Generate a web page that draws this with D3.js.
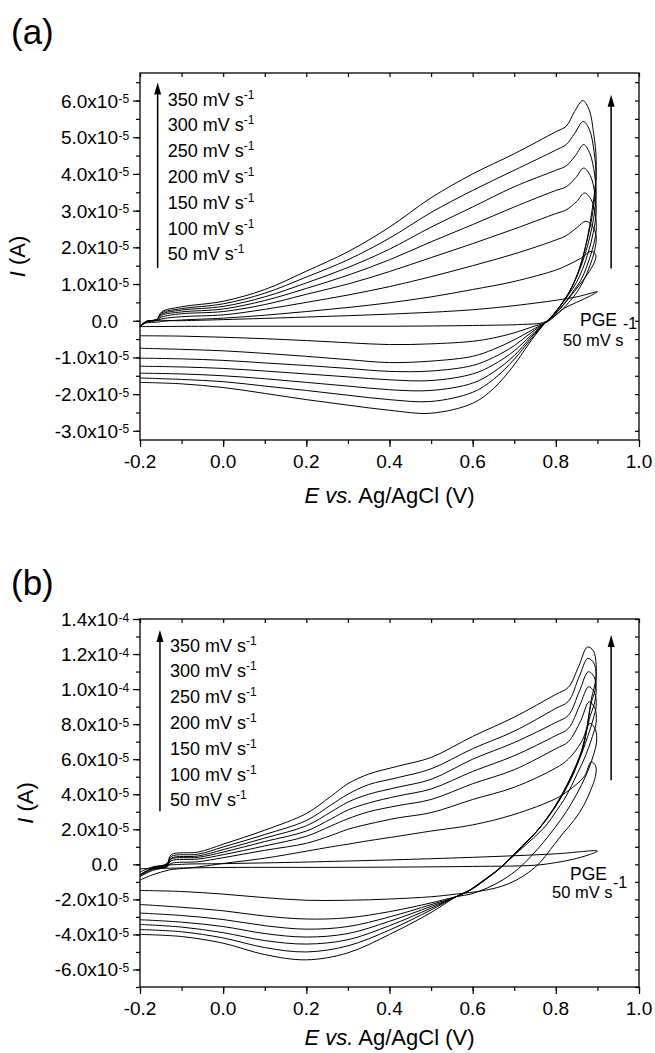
<!DOCTYPE html>
<html>
<head>
<meta charset="utf-8">
<script src="https://cdn.jsdelivr.net/npm/d3@7"></script>
<style>
  body { margin: 0; background: #fff; }
  svg { font-family: "Liberation Sans", Arial, sans-serif; background: #fff; }
  .frame { fill: none; stroke: #000; stroke-width: 1.3; }
  .cv { fill: none; stroke: #000; stroke-width: 1; }
  .domain { display: none; }
  .tick line { stroke: #000; stroke-width: 1.2; }
</style>
</head>
<body>
<svg width="655" height="1053"></svg>
<script>
// currents are in units of 1e-5 A, potentials in V
const rates = ["350", "300", "250", "200", "150", "100", "50"]
const xTicks = [-0.2, 0, 0.2, 0.4, 0.6, 0.8, 1.0]

// ---- panel (a)
const yTicksA = [-3, -2, -1, 0, 1, 2, 3, 4, 5, 6]
const eUpA = [-0.2, -0.185, -0.16, -0.148, -0.1, 0.0, 0.1, 0.2, 0.3, 0.4, 0.5, 0.6, 0.7, 0.8, 0.825]
const upA = [
  [-0.16, -0.02, 0.03, 0.24, 0.38, 0.53, 0.85, 1.35, 1.88, 2.55, 3.35, 4.0, 4.55, 5.15, 5.3],
  [-0.16, -0.02, 0.03, 0.21, 0.33, 0.46, 0.75, 1.19, 1.66, 2.25, 2.95, 3.55, 4.1, 4.65, 4.8],
  [-0.16, -0.02, 0.03, 0.18, 0.29, 0.39, 0.65, 1.03, 1.45, 1.95, 2.55, 3.1, 3.65, 4.1, 4.22],
  [-0.16, -0.02, 0.03, 0.15, 0.24, 0.32, 0.55, 0.88, 1.24, 1.66, 2.15, 2.62, 3.1, 3.55, 3.65],
  [-0.16, -0.03, 0.02, 0.1, 0.19, 0.25, 0.44, 0.72, 1.0, 1.34, 1.72, 2.1, 2.5, 2.92, 3.02],
  [-0.16, -0.04, 0.0, 0.05, 0.11, 0.16, 0.31, 0.5, 0.7, 0.93, 1.2, 1.5, 1.82, 2.2, 2.32],
  [-0.16, -0.06, -0.04, -0.02, 0.02, 0.07, 0.15, 0.25, 0.36, 0.49, 0.65, 0.85, 1.07, 1.38, 1.5]
]
const turnA = [
  [[0.845, 5.7], [0.865, 6.0], [0.88, 5.75], [0.891, 5.1], [0.897, 4.4], [0.895, 3.7], [0.887, 3.0], [0.875, 2.2], [0.858, 1.45], [0.836, 0.85], [0.81, 0.4], [0.79, 0.12]],
  [[0.845, 5.1], [0.866, 5.43], [0.881, 5.2], [0.892, 4.6], [0.897, 3.9], [0.893, 3.3], [0.885, 2.7], [0.873, 2.1], [0.856, 1.4], [0.834, 0.82], [0.809, 0.38], [0.789, 0.1]],
  [[0.847, 4.5], [0.867, 4.8], [0.882, 4.55], [0.893, 4.0], [0.897, 3.4], [0.891, 2.8], [0.882, 2.3], [0.87, 1.8], [0.854, 1.3], [0.832, 0.78], [0.807, 0.35], [0.788, 0.08]],
  [[0.848, 3.9], [0.867, 4.16], [0.883, 3.95], [0.894, 3.45], [0.897, 2.95], [0.89, 2.4], [0.879, 1.9], [0.864, 1.4], [0.85, 1.05], [0.83, 0.7], [0.806, 0.32], [0.787, 0.06]],
  [[0.85, 3.25], [0.869, 3.48], [0.885, 3.3], [0.895, 2.9], [0.897, 2.45], [0.888, 1.95], [0.875, 1.5], [0.86, 1.1], [0.845, 0.85], [0.826, 0.55], [0.804, 0.25], [0.786, 0.04]],
  [[0.852, 2.55], [0.872, 2.71], [0.888, 2.58], [0.897, 2.3], [0.893, 1.9], [0.882, 1.5], [0.868, 1.12], [0.852, 0.8], [0.835, 0.55], [0.815, 0.3], [0.797, 0.12], [0.784, 0.0]],
  [[0.86, 1.7], [0.885, 1.89], [0.896, 1.8], [0.893, 1.6], [0.875, 1.25], [0.855, 0.95], [0.832, 0.62], [0.81, 0.32], [0.79, 0.1], [0.782, 0.0]]
]
const eLowA = [0.775, 0.74, 0.7, 0.65, 0.6, 0.5, 0.4, 0.3, 0.2, 0.1, 0.0, -0.1, -0.2]
const lowA = [
  [-0.05, -0.55, -1.2, -1.85, -2.25, -2.52, -2.44, -2.3, -2.15, -1.98, -1.82, -1.72, -1.68],
  [-0.05, -0.5, -1.05, -1.6, -1.95, -2.2, -2.15, -2.03, -1.9, -1.78, -1.66, -1.6, -1.56],
  [-0.05, -0.45, -0.95, -1.4, -1.7, -1.9, -1.88, -1.78, -1.68, -1.58, -1.5, -1.45, -1.43],
  [-0.05, -0.4, -0.82, -1.2, -1.45, -1.63, -1.61, -1.53, -1.45, -1.37, -1.3, -1.26, -1.24],
  [-0.05, -0.33, -0.68, -1.0, -1.22, -1.37, -1.38, -1.3, -1.22, -1.15, -1.08, -1.04, -1.02],
  [-0.05, -0.27, -0.52, -0.78, -0.97, -1.1, -1.14, -1.06, -0.97, -0.89, -0.82, -0.78, -0.75],
  [-0.05, -0.18, -0.33, -0.47, -0.56, -0.63, -0.65, -0.6, -0.54, -0.49, -0.45, -0.42, -0.41]
]
const pgeA = [[-0.2, -0.16], [-0.185, -0.02], [-0.1, 0.0], [0.0, 0.03], [0.2, 0.1], [0.4, 0.18], [0.6, 0.3], [0.75, 0.48], [0.85, 0.65], [0.9, 0.79],
  [0.88, 0.66], [0.85, 0.5], [0.82, 0.34], [0.795, 0.12], [0.77, -0.05], [0.72, -0.1], [0.6, -0.13], [0.4, -0.15], [0.2, -0.15], [0.0, -0.15], [-0.2, -0.16]]

// ---- panel (b)
const yTicksB = [-6, -4, -2, 0, 2, 4, 6, 8, 10, 12, 14]
const eUpB = [-0.2, -0.17, -0.135, -0.125, -0.06, 0.0, 0.1, 0.2, 0.26, 0.3, 0.35, 0.42, 0.5, 0.6, 0.7, 0.8, 0.83]
const upB = [
  [-0.6, -0.2, 0.05, 0.55, 0.7, 1.15, 1.95, 2.9, 3.9, 4.6, 5.15, 5.6, 6.1, 7.3, 8.4, 9.7, 10.1],
  [-0.6, -0.2, 0.0, 0.45, 0.58, 0.99, 1.7, 2.5, 3.4, 4.0, 4.55, 4.95, 5.45, 6.6, 7.6, 8.9, 9.3],
  [-0.6, -0.25, -0.05, 0.35, 0.48, 0.84, 1.5, 2.2, 3.0, 3.55, 4.0, 4.4, 4.85, 6.0, 6.95, 8.1, 8.5],
  [-0.6, -0.25, -0.05, 0.3, 0.4, 0.7, 1.3, 1.9, 2.6, 3.1, 3.5, 3.9, 4.3, 5.3, 6.2, 7.35, 7.75],
  [-0.65, -0.3, -0.1, 0.2, 0.3, 0.55, 1.05, 1.6, 2.2, 2.6, 3.0, 3.35, 3.7, 4.6, 5.4, 6.6, 7.0],
  [-0.7, -0.35, -0.15, 0.05, 0.15, 0.38, 0.8, 1.2, 1.65, 2.0, 2.3, 2.65, 2.95, 3.7, 4.4, 5.5, 6.0],
  [-0.9, -0.6, -0.35, -0.3, -0.15, 0.05, 0.35, 0.75, 1.0, 1.15, 1.35, 1.6, 1.9, 2.25, 2.85, 3.75, 4.2]
]
const turnB = [
  [[0.855, 11.3], [0.876, 12.4], [0.89, 12.2], [0.897, 11.4], [0.895, 10.4], [0.886, 9.5], [0.876, 8.0], [0.866, 6.7], [0.85, 5.6], [0.833, 4.7], [0.81, 3.7], [0.785, 2.8], [0.755, 1.9], [0.722, 1.1], [0.692, 0.4], [0.665, -0.25], [0.632, -0.85], [0.6, -1.39]],
  [[0.856, 10.7], [0.877, 11.75], [0.891, 11.5], [0.897, 10.8], [0.894, 9.9], [0.885, 9.2], [0.875, 7.8], [0.864, 6.6], [0.848, 5.55], [0.831, 4.65], [0.808, 3.65], [0.783, 2.75], [0.753, 1.85], [0.72, 1.05], [0.69, 0.35], [0.663, -0.28], [0.63, -0.88], [0.598, -1.42]],
  [[0.857, 9.9], [0.878, 10.99], [0.892, 10.7], [0.897, 9.95], [0.892, 9.1], [0.883, 8.5], [0.873, 7.5], [0.862, 6.5], [0.846, 5.5], [0.829, 4.6], [0.806, 3.6], [0.781, 2.7], [0.751, 1.8], [0.718, 1.0], [0.688, 0.3], [0.661, -0.3], [0.628, -0.9], [0.596, -1.44]],
  [[0.858, 9.1], [0.879, 10.13], [0.893, 9.8], [0.897, 9.05], [0.89, 8.3], [0.881, 7.6], [0.871, 6.9], [0.86, 6.2], [0.844, 5.4], [0.827, 4.55], [0.804, 3.55], [0.779, 2.65], [0.749, 1.75], [0.716, 0.95], [0.686, 0.25], [0.659, -0.35], [0.626, -0.93], [0.594, -1.46]],
  [[0.86, 8.2], [0.88, 9.27], [0.894, 8.9], [0.897, 8.1], [0.888, 7.3], [0.878, 6.6], [0.866, 5.9], [0.852, 5.2], [0.838, 4.5], [0.82, 3.7], [0.8, 3.0], [0.776, 2.2], [0.746, 1.5], [0.713, 0.8], [0.683, 0.15], [0.656, -0.4], [0.623, -0.96], [0.592, -1.48]],
  [[0.862, 7.0], [0.882, 8.04], [0.895, 7.7], [0.898, 7.0], [0.89, 6.2], [0.873, 5.1], [0.85, 4.0], [0.825, 3.0], [0.798, 2.1], [0.77, 1.25], [0.74, 0.45], [0.71, -0.25], [0.675, -0.85], [0.635, -1.35], [0.598, -1.68]],
  [[0.868, 5.0], [0.885, 5.85], [0.896, 5.6], [0.895, 5.0], [0.885, 4.3], [0.868, 3.4], [0.845, 2.55], [0.815, 1.7], [0.787, 0.85], [0.762, 0.1], [0.735, -0.45], [0.705, -0.9], [0.67, -1.25], [0.625, -1.5]]
]
const eLowB = [0.56, 0.5, 0.4, 0.3, 0.2, 0.1, 0.0, -0.1, -0.2]
const lowB = [
  [-1.85, -2.75, -4.0, -5.05, -5.45, -5.15, -4.5, -4.12, -4.0],
  [-1.85, -2.6, -3.75, -4.65, -5.0, -4.75, -4.2, -3.85, -3.72],
  [-1.85, -2.5, -3.5, -4.3, -4.55, -4.35, -3.9, -3.58, -3.43],
  [-1.85, -2.4, -3.25, -3.95, -4.15, -3.95, -3.55, -3.3, -3.16],
  [-1.85, -2.3, -3.0, -3.55, -3.7, -3.5, -3.15, -2.92, -2.78],
  [-1.85, -2.2, -2.7, -3.05, -3.12, -2.95, -2.65, -2.45, -2.29],
  [-1.7, -1.85, -1.98, -2.05, -2.05, -1.9, -1.7, -1.55, -1.49]
]
const pgeB = [[-0.2, -0.45], [-0.17, -0.15], [-0.1, 0.0], [0.0, 0.04], [0.2, 0.13], [0.4, 0.25], [0.6, 0.4], [0.8, 0.6], [0.9, 0.76],
  [0.88, 0.55], [0.84, 0.28], [0.8, 0.1], [0.75, -0.05], [0.6, -0.12], [0.3, -0.17], [0.0, -0.18], [-0.2, -0.25]]

const svg = d3.select("svg")

function drawPanel(p) {
  const x = d3.scaleLinear().domain([-0.2, 1.0]).range([140, 639])
  const y = d3.scaleLinear().domain(p.yDomain).range([p.bottom, p.top])
  const g = svg.append("g")

  const line = d3.line()
    .x(d => x(d[0]))
    .y(d => y(d[1]))
    .curve(d3.curveCatmullRom.alpha(0.5))

  const loops = rates.map((r, i) => {
    const up = p.eUp.map((e, j) => [e, p.up[i][j]])
    const low = p.eLow.map((e, j) => [e, p.low[i][j]])
    return up.concat(p.turn[i], low)
  })
  loops.push(p.pge)

  g.selectAll("path.cv")
    .data(loops)
    .enter()
    .append("path")
    .attr("class", "cv")
    .attr("d", d => line(d))

  // frame
  g.append("rect")
    .attr("class", "frame")
    .attr("x", x(-0.2))
    .attr("y", y(p.yDomain[1]))
    .attr("width", x(1.0) - x(-0.2))
    .attr("height", y(p.yDomain[0]) - y(p.yDomain[1]))

  const minorX = d3.range(-0.2, 1.01, 0.1)
  const majorY = p.yTicks
  const step = p.yTicks[1] - p.yTicks[0]
  const minorY = d3.range(p.yDomain[0], p.yDomain[1] + 1e-9, step / 2)
    .map(v => Math.round(v / (step / 2)) * (step / 2))
    .filter(v => v >= p.yDomain[0] && v <= p.yDomain[1])

  // bottom axis: outward ticks
  g.append("g").attr("transform", `translate(0,${p.bottom})`)
    .call(d3.axisBottom(x).tickValues(minorX).tickSize(4).tickFormat(""))
  g.append("g").attr("transform", `translate(0,${p.bottom})`)
    .call(d3.axisBottom(x).tickValues(xTicks).tickSize(7).tickFormat(""))
  // top axis: inward ticks
  g.append("g").attr("transform", `translate(0,${p.top})`)
    .call(d3.axisBottom(x).tickValues(minorX).tickSize(4).tickFormat(""))
  // left axis: outward ticks
  g.append("g").attr("transform", `translate(${x(-0.2)},0)`)
    .call(d3.axisLeft(y).tickValues(minorY).tickSize(4).tickFormat(""))
  g.append("g").attr("transform", `translate(${x(-0.2)},0)`)
    .call(d3.axisLeft(y).tickValues(majorY).tickSize(7).tickFormat(""))
  // right axis: inward ticks
  g.append("g").attr("transform", `translate(${x(1.0)},0)`)
    .call(d3.axisLeft(y).tickValues(minorY).tickSize(4).tickFormat(""))

  // x tick labels
  g.selectAll("text.xt")
    .data(xTicks)
    .enter()
    .append("text")
    .attr("class", "xt")
    .attr("x", d => x(d))
    .attr("y", p.bottom + 28)
    .attr("text-anchor", "middle")
    .attr("font-size", 19)
    .text(d => d.toFixed(1))

  // y tick labels: mantissa x10 + superscript exponent
  majorY.forEach(v => {
    const big = Math.abs(v) >= 10
    const mant = v === 0 ? "0.0" : (big ? v / 10 : v).toFixed(1) + "x10"
    g.append("text")
      .attr("x", 118)
      .attr("y", y(v) + 7)
      .attr("text-anchor", "end")
      .attr("font-size", 19)
      .text(mant)
    if (v !== 0) {
      g.append("text")
        .attr("x", 118.5)
        .attr("y", y(v) + 2.5)
        .attr("font-size", 12)
        .text(big ? "-4" : "-5")
    }
  })

  // axis titles
  const xt = g.append("text")
    .attr("x", (x(-0.2) + x(1.0)) / 2)
    .attr("y", p.bottom + p.xTitleDy)
    .attr("text-anchor", "middle")
    .attr("font-size", 22)
  xt.append("tspan").attr("font-style", "italic").text("E vs.")
  xt.append("tspan").text(" Ag/AgCl (V)")

  const yt = g.append("text")
    .attr("transform", `translate(${p.yTitleX},${(p.top + p.bottom) / 2}) rotate(-90)`)
    .attr("text-anchor", "middle")
    .attr("font-size", 22)
  yt.append("tspan").attr("font-style", "italic").text("I")
  yt.append("tspan").text(" (A)")

  // panel letter
  g.append("text")
    .attr("x", 11)
    .attr("y", p.letterY)
    .attr("font-size", 35)
    .text(p.letter)

  // arrows
  p.arrows.forEach(a => {
    const ax = x(a.e), y0 = y(a.from), y1 = y(a.to)
    g.append("line")
      .attr("x1", ax).attr("x2", ax)
      .attr("y1", y0).attr("y2", y1 + 8)
      .attr("stroke", "#000").attr("stroke-width", 1.5)
    g.append("path")
      .attr("d", `M${ax},${y1} L${ax - 3.5},${y1 + 12} L${ax + 3.5},${y1 + 12} Z`)
      .attr("fill", "#000")
  })

  // legend of scan rates
  rates.forEach((r, i) => {
    const t = g.append("text")
      .attr("x", x(p.arrows[0].e) + 10)
      .attr("y", p.top + 32.5 + i * 25.8)
      .attr("font-size", 18)
    t.append("tspan").text(r + " mV s")
    t.append("tspan").attr("font-size", 12).attr("dy", -7).text("-1")
  })

  // PGE label
  g.append("text").attr("x", p.pgeLab[0]).attr("y", p.pgeLab[1]).attr("font-size", 17.5).text("PGE")
  g.append("text").attr("x", p.pgeLab[2]).attr("y", p.pgeLab[3]).attr("font-size", 16.5).text("50 mV s")
  g.append("text").attr("x", p.pgeLab[4]).attr("y", p.pgeLab[5]).attr("font-size", 16).text("-1")
}

drawPanel({
  letter: "(a)", letterY: 44, top: 73, bottom: 440, yDomain: [-3.25, 6.75], yTicks: yTicksA, yTitleX: 25, xTitleDy: 63,
  eUp: eUpA, up: upA, turn: turnA, eLow: eLowA, low: lowA, pge: pgeA,
  arrows: [{ e: -0.1575, from: 1.44, to: 6.49 }, { e: 0.933, from: 1.42, to: 6.16 }],
  pgeLab: [580, 326, 563, 346, 623, 329]
})

drawPanel({
  letter: "(b)", letterY: 595, top: 619, bottom: 987, yDomain: [-7, 14], yTicks: yTicksB, yTitleX: 33, xTitleDy: 58,
  eUp: eUpB, up: upB, turn: turnB, eLow: eLowB, low: lowB, pge: pgeB,
  arrows: [{ e: -0.152, from: 3.03, to: 13.37 }, { e: 0.933, from: 4.8, to: 13.09 }],
  pgeLab: [570, 880, 552, 898, 613, 888]
})
</script>
</body>
</html>
